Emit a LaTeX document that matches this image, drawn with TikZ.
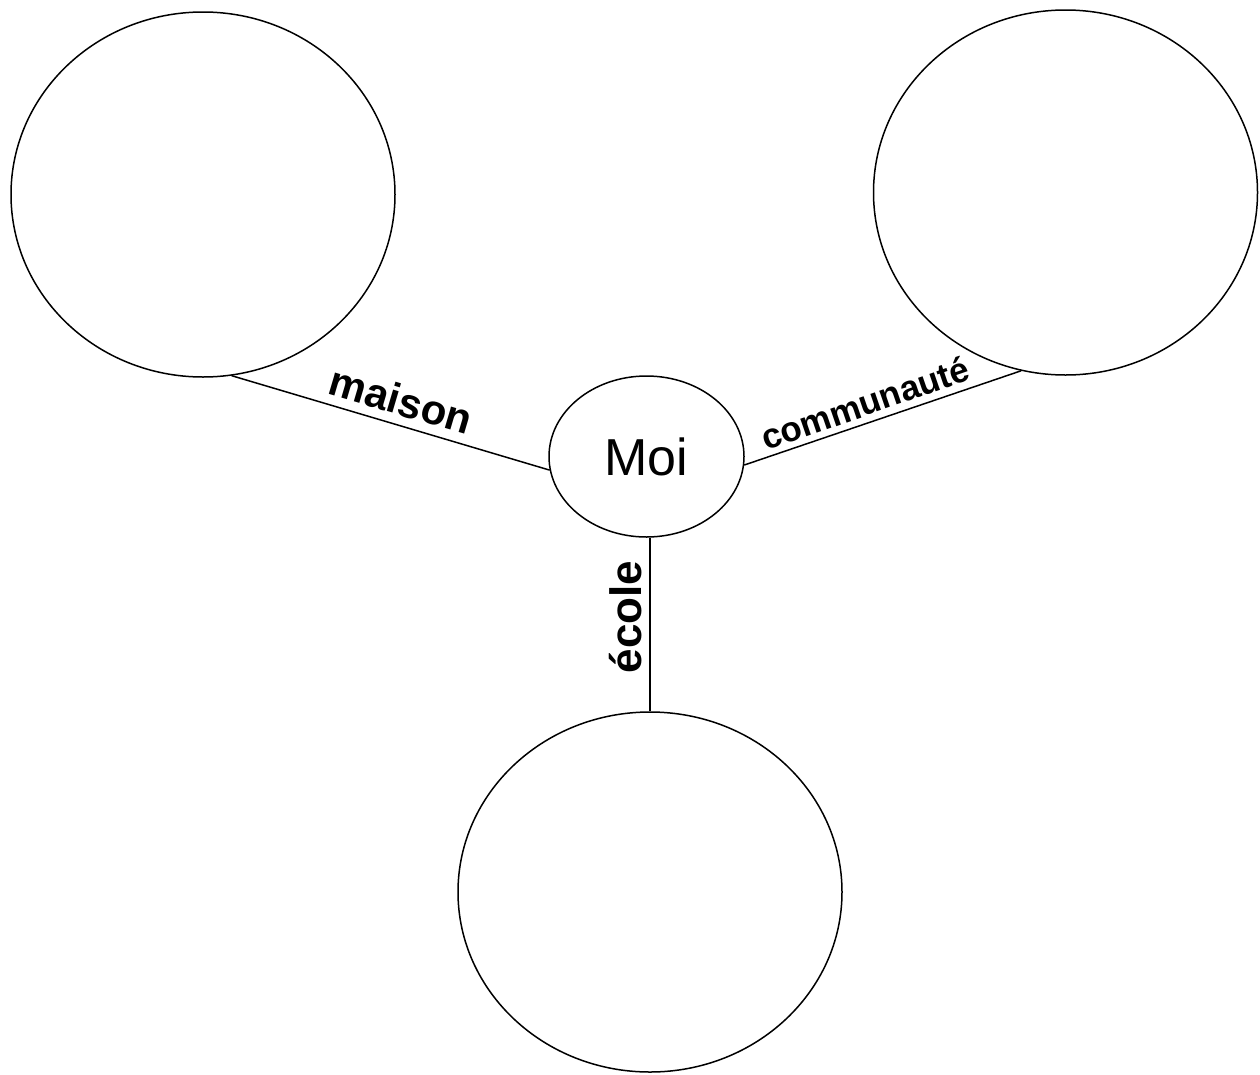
\documentclass[tikz,border=0pt]{standalone}
\usepackage{fontspec}
\setmainfont{Liberation Sans}
\usetikzlibrary{shapes.geometric}
\begin{document}
\begin{tikzpicture}[x=1pt,y=-1pt,
  big/.style={draw,ellipse,line width=1.5pt,inner sep=0pt,minimum width=384pt,minimum height=365pt},
  centre/.style={draw,ellipse,line width=1.5pt,inner sep=0pt,minimum width=195pt,minimum height=161pt,font=\fontsize{52}{52}\selectfont},
  lbl/.style={font=\fontsize{42}{42}\selectfont\bfseries,inner sep=0pt},
  link/.style={line width=1.5pt}]
\useasboundingbox (0,0) rectangle (1260,1074);
\node[big] (tl) at (203,194.5) {};
\node[big] (tr) at (1065.5,192.5) {};
\node[big,minimum height=360pt] (bot) at (650,892) {};
\node[centre] (moi) at (646.5,456.5) {Moi};
\draw[link] (tl.-81.5) -- (moi.188);
\draw[link] (moi.-5) -- (tr.256.2);
\draw[link] (bot.north) -- (bot.north |- moi.south);
\node[lbl,rotate=-16.5] (lm) at (401,400) {maison};
\node[lbl,rotate=19,font=\fontsize{35}{35}\selectfont\bfseries] (lc) at (865,403) {communauté};
\node[lbl,rotate=90,font=\fontsize{44}{44}\selectfont\bfseries] (le) at (626,617) {école};
\end{tikzpicture}
\end{document}
